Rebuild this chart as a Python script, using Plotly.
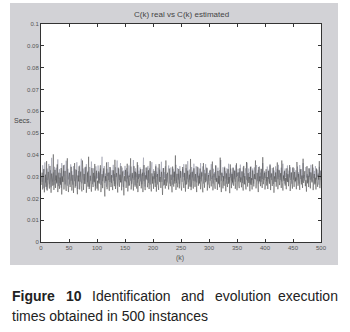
import plotly.graph_objects as go

# Execution times in tenths of a millisecond (value / 10000 = seconds)
real_t = [
262,318,241,297,335,228,284,309,253,371,236,298,322,267,245,349,281,226,314,293,258,402,239,276,331,
248,305,272,356,229,287,318,244,296,263,339,218,301,275,352,241,289,326,257,234,311,384,266,229,298,
317,252,283,345,236,271,308,225,294,362,249,287,331,262,219,305,278,347,241,296,323,258,232,374,284,
239,312,267,298,345,226,283,319,254,391,243,276,304,265,231,339,288,252,317,274,358,236,299,327,245,
281,236,324,268,297,352,229,285,311,247,276,338,254,209,302,279,365,242,293,318,261,235,344,287,252,
307,269,238,329,284,256,377,243,298,316,262,227,341,285,253,309,274,348,237,291,324,266,214,302,279,
331,248,287,359,232,274,305,259,296,384,241,282,317,263,236,348,291,254,322,278,245,366,229,294,312,
257,283,334,246,271,318,229,297,353,264,238,306,287,342,251,276,329,243,294,371,259,232,315,268,301,
244,326,279,253,347,231,289,312,266,239,358,275,297,248,322,284,216,301,339,262,287,245,374,258,296,
318,263,241,337,282,256,309,271,228,346,293,254,321,268,397,239,284,313,251,277,335,246,292,326,259,
236,299,344,272,248,317,285,231,356,264,292,327,243,278,309,254,381,238,296,321,267,245,338,282,253,
312,276,229,345,291,258,304,269,337,242,283,319,256,228,362,287,249,315,274,298,341,236,279,307,264,
247,331,283,255,298,369,237,286,314,261,244,352,277,293,239,326,268,304,251,387,273,229,318,285,246,
302,258,341,276,233,315,289,252,334,267,298,224,356,281,247,312,273,339,258,291,326,244,278,361,237,
284,319,262,247,338,274,296,251,323,287,236,349,265,302,278,241,367,289,254,316,271,298,233,345,262,
293,241,328,276,255,311,289,374,246,283,317,262,229,344,278,301,256,336,272,248,389,265,293,318,241,
276,334,259,298,243,326,281,267,352,238,295,314,257,283,342,226,301,276,319,254,287,365,242,296,331,
261,289,316,248,374,273,236,305,281,327,259,294,242,338,275,311,256,297,353,234,286,319,268,245,343,
287,253,321,279,296,242,367,284,258,313,276,239,334,291,264,305,248,382,271,297,325,256,283,231,348,
269,304,252,338,281,246,319,294,273,356,238,287,312,264,295,241,337,278,253,309,286,371,247,292,326,
]

estimated_t = [
301,276,352,289,247,318,365,273,296,241,337,284,312,358,265,293,329,251,386,304,277,319,262,345,298,
283,341,267,312,379,256,298,334,271,316,249,362,295,278,327,301,354,264,289,373,312,258,336,287,319,
264,309,356,281,325,297,263,348,312,279,334,257,301,366,288,243,325,297,351,276,309,382,269,294,337,
318,283,342,266,301,357,289,274,326,298,253,344,312,281,369,294,265,321,338,279,304,256,347,291,316,
292,351,273,318,284,337,262,306,391,279,325,296,348,271,314,289,253,336,302,367,284,319,275,342,298,
271,329,296,354,281,312,267,343,298,325,374,259,301,336,284,317,362,273,298,341,286,253,328,305,349,
306,274,339,291,323,258,351,298,314,281,346,267,309,293,376,285,324,261,338,297,315,272,353,289,327,
296,342,278,311,265,334,302,387,279,318,254,341,296,325,283,349,271,306,338,264,311,297,366,282,319,
334,289,315,272,356,298,323,264,341,307,281,332,293,318,368,276,304,339,258,321,294,347,281,312,273,
287,326,351,294,268,317,342,285,309,263,336,297,325,279,318,354,271,302,339,286,313,267,348,295,324,
312,276,334,298,357,283,316,261,339,305,288,371,274,309,332,286,318,253,344,296,327,281,359,302,278,
291,348,273,319,296,342,265,314,289,362,278,323,301,347,268,306,331,284,357,296,279,338,263,317,301,
326,281,312,357,289,304,268,336,297,321,284,349,306,275,318,341,292,263,329,308,376,281,315,297,343,
279,318,346,291,324,267,338,301,285,359,273,314,296,337,282,319,264,343,305,288,331,276,352,298,317,
303,336,278,321,294,355,283,309,326,271,342,297,315,264,338,301,286,364,279,313,337,292,321,268,346,
318,284,337,299,268,342,311,287,326,353,279,304,331,268,347,295,318,276,334,289,362,307,284,326,293,
294,321,278,346,305,289,332,273,358,296,317,284,339,302,266,328,314,291,347,275,309,336,288,354,297,
327,285,312,341,278,304,359,291,323,268,337,298,316,282,351,309,274,327,296,343,285,318,267,339,302,
286,338,301,274,329,312,283,346,297,321,268,353,306,289,334,276,318,362,293,307,281,329,344,296,312,
309,274,337,298,321,286,354,302,278,316,341,293,326,269,348,305,287,332,298,317,263,345,301,328,284,
]

instances = list(range(1, len(real_t) + 1))
x_ticks = [0, 50, 100, 150, 200, 250, 300, 350, 400, 450, 500]
y_ticks = [0, 0.01, 0.02, 0.03, 0.04, 0.05, 0.06, 0.07, 0.08, 0.09, 0.1]
y_tick_text = ["0", "0.01", "0.02", "0.03", "0.04", "0.05", "0.06", "0.07", "0.08", "0.09", "0.1"]

real_s = [v / 10000 for v in real_t]
est_s = [v / 10000 for v in estimated_t]

fig = go.Figure()
fig.add_trace(go.Scatter(x=instances, y=est_s, mode="lines",
                         line=dict(color="#9a9cab", width=0.6), name="C(k) estimated"))
fig.add_trace(go.Scatter(x=instances, y=real_s, mode="lines",
                         line=dict(color="#444444", width=0.5), name="C(k) real"))

L, R, T, B = 41, 321, 24, 242
W, H = 350, 332
pw, ph = R - L, B - T
def px(xp): return (xp - L) / pw
def py(yp): return (B - yp) / ph

fig.add_shape(type="rect", xref="paper", yref="paper",
              x0=px(10), x1=px(338), y0=py(265), y1=py(3),
              fillcolor="#d2d2d6", line=dict(width=0), layer="below")
fig.add_shape(type="rect", xref="paper", yref="paper",
              x0=0, x1=1, y0=0, y1=1,
              fillcolor="white", line=dict(width=0), layer="below")

axfont = dict(family="Liberation Sans, Arial", size=6, color="#555555")
fig.update_xaxes(range=[0, 500], tickvals=x_ticks, ticks="inside", ticklen=3,
                 tickcolor="#333333", showline=True, linecolor="#333333", linewidth=1,
                 mirror="ticks", showgrid=False, zeroline=False, tickfont=axfont,
                 automargin=False)
fig.update_yaxes(range=[0, 0.1], tickvals=y_ticks, ticktext=y_tick_text, ticks="inside",
                 ticklen=3, tickcolor="#333333", showline=True, linecolor="#333333",
                 linewidth=1, mirror="ticks", showgrid=False, zeroline=False, tickfont=axfont,
                 automargin=False)

def ann(text, x, y, size, color, anchor="left", bold=False):
    fig.add_annotation(text=f"<b>{text}</b>" if bold else text, xref="paper", yref="paper",
                       x=px(x), y=py(y), xanchor=anchor, yanchor="middle", showarrow=False,
                       font=dict(family="Liberation Sans, Arial", size=size, color=color))

ann("C(k) real vs C(k) estimated", 181, 14, 8, "#444444", "center")
ann("Secs.", 12, 120, 7, "#444444", "left")
ann("(k)", 180, 258, 7, "#555555", "center")

cap = "#222222"
ann("Figure", 10, 296, 14, cap, "left", bold=True)
ann("10", 64, 296, 14, cap, "left", bold=True)
ann("Identification", 90, 296, 14, cap, "left")
ann("and", 179, 296, 14, cap, "left")
ann("evolution", 213, 296, 14, cap, "left")
ann("execution", 340, 296, 14, cap, "right")
ann("times obtained in 500 instances", 10, 316, 14, cap, "left")

fig.update_layout(width=W, height=H, margin=dict(l=L, r=W - R, t=T, b=H - B),
                  paper_bgcolor="white", plot_bgcolor="rgba(0,0,0,0)", showlegend=False)

fig.write_html("out.html", config={"displayModeBar": False},
               post_script="document.body.style.margin='0';document.body.style.padding='0';")
